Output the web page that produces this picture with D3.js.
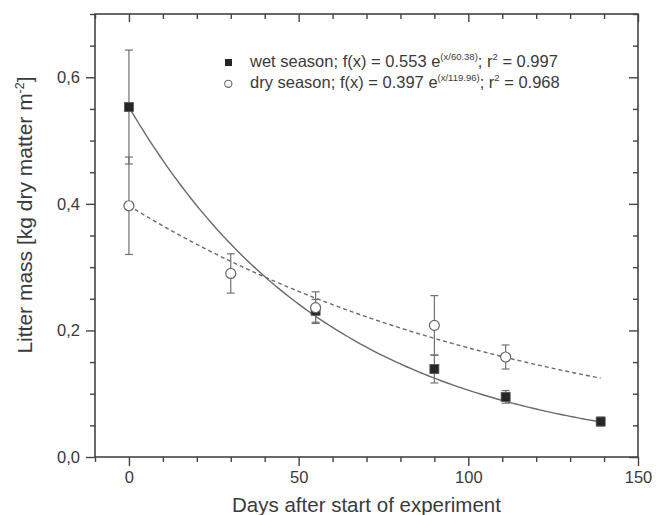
<!DOCTYPE html>
<html>
<head>
<meta charset="utf-8">
<script src="https://cdn.jsdelivr.net/npm/d3@7"></script>
<style>
  body { margin: 0; background: #fff; }
  svg { display: block; font-family: "Liberation Sans", Arial, sans-serif; }
</style>
</head>
<body>
<div id="chart"></div>
<script>
const wetDays = [0, 55, 90, 111, 139];
const wetMass = [0.553, 0.231, 0.139, 0.095, 0.056];
const wetErr  = [0.090, 0.018, 0.022, 0.010, 0.007];

const dryDays = [0, 30, 55, 90, 111];
const dryMass = [0.397, 0.290, 0.236, 0.208, 0.158];
const dryErr  = [0.077, 0.031, 0.025, 0.047, 0.019];

// fitted exponential decay parameters
const wetFit = { a: 0.553, k: 60.38 };
const dryFit = { a: 0.397, k: 119.96 };
const fitEnd = 139;

const xTicks = [0, 50, 100, 150];
const yTicks = [0, 0.2, 0.4, 0.6];

const width = 663, height = 515;
const margin = { top: 14, right: 25, bottom: 58, left: 95 };

const svg = d3.select("#chart").append("svg")
    .attr("width", width)
    .attr("height", height);

const x = d3.scaleLinear().domain([-10, 150]).range([margin.left, width - margin.right]);
const y = d3.scaleLinear().domain([0, 0.7]).range([height - margin.bottom, margin.top]);

const axisColor = "#444";
const textColor = "#3a3a3a";

// frame
svg.append("rect")
    .attr("x", x(-10)).attr("y", y(0.7))
    .attr("width", x(150) - x(-10)).attr("height", y(0) - y(0.7))
    .attr("fill", "none").attr("stroke", axisColor).attr("stroke-width", 1.6);

const xMinor = d3.range(-10, 151, 10);
const yMinor = d3.range(0, 0.701, 0.05);

// bottom axis (outward ticks)
const bottomAxis = svg.append("g").attr("transform", `translate(0,${y(0)})`);
bottomAxis.call(d3.axisBottom(x).tickValues(xMinor.filter(v => v % 50 !== 0)).tickSize(5).tickFormat(""));
bottomAxis.append("g").call(d3.axisBottom(x).tickValues(xTicks).tickSize(9).tickPadding(5).tickFormat(d3.format("d")));
bottomAxis.selectAll(".domain").remove();

// left axis (outward ticks)
const leftAxis = svg.append("g").attr("transform", `translate(${x(-10)},0)`);
leftAxis.call(d3.axisLeft(y).tickValues(yMinor.filter((v, i) => i % 4 !== 0)).tickSize(5).tickFormat(""));
leftAxis.append("g").call(d3.axisLeft(y).tickValues(yTicks).tickSize(9).tickPadding(6)
    .tickFormat(d => d3.format(".1f")(d).replace(".", ",")));
leftAxis.selectAll(".domain").remove();

// top axis (inward ticks)
const topAxis = svg.append("g").attr("transform", `translate(0,${y(0.7)})`);
topAxis.call(d3.axisBottom(x).tickValues(xMinor.filter(v => v % 50 !== 0)).tickSize(5).tickFormat(""));
topAxis.append("g").call(d3.axisBottom(x).tickValues(xTicks).tickSize(8).tickFormat(""));
topAxis.selectAll(".domain").remove();

// right axis (inward ticks)
const rightAxis = svg.append("g").attr("transform", `translate(${x(150)},0)`);
rightAxis.call(d3.axisLeft(y).tickValues(yMinor.filter((v, i) => i % 4 !== 0)).tickSize(5).tickFormat(""));
rightAxis.append("g").call(d3.axisLeft(y).tickValues(yTicks).tickSize(9).tickFormat(""));
rightAxis.selectAll(".domain").remove();

svg.selectAll(".tick line").attr("stroke", axisColor).attr("stroke-width", 1.4);
svg.selectAll(".tick text")
    .attr("fill", textColor)
    .style("font-size", "16.5px");

// axis titles
svg.append("text")
    .attr("x", (x(-10) + x(150)) / 2)
    .attr("y", 512)
    .attr("text-anchor", "middle")
    .attr("fill", textColor)
    .style("font-size", "20.5px")
    .text("Days after start of experiment");

const yTitle = svg.append("text")
    .attr("transform", `translate(32,215) rotate(-90)`)
    .attr("text-anchor", "middle")
    .attr("fill", textColor)
    .style("font-size", "21px");
yTitle.append("tspan").text("Litter mass [kg dry matter m");
yTitle.append("tspan").attr("dy", -8).style("font-size", "12.5px").text("-2");
yTitle.append("tspan").attr("dy", 8).text("]");

// fitted curves
const fitLine = fit => d3.line()
    .x(d => x(d))
    .y(d => y(fit.a * Math.exp(-d / fit.k)));
const fitX = d3.range(0, fitEnd + 0.5, 1);

svg.append("path")
    .datum(fitX)
    .attr("d", fitLine(wetFit))
    .attr("fill", "none").attr("stroke", "#6a6a6a").attr("stroke-width", 1.4);

svg.append("path")
    .datum(fitX)
    .attr("d", fitLine(dryFit))
    .attr("fill", "none").attr("stroke", "#6a6a6a").attr("stroke-width", 1.4)
    .attr("stroke-dasharray", "4,3");

// error bars
function errorBars(days, mass, err) {
    const g = svg.append("g").attr("stroke", "#707070").attr("stroke-width", 1.2);
    const pts = days.map((d, i) => ({ d, m: mass[i], e: err[i] }));
    g.selectAll(".bar").data(pts).join("line").attr("class", "bar")
        .attr("x1", p => x(p.d)).attr("x2", p => x(p.d))
        .attr("y1", p => y(p.m + p.e)).attr("y2", p => y(p.m - p.e));
    g.selectAll(".capTop").data(pts).join("line").attr("class", "capTop")
        .attr("x1", p => x(p.d) - 4).attr("x2", p => x(p.d) + 4)
        .attr("y1", p => y(p.m + p.e)).attr("y2", p => y(p.m + p.e));
    g.selectAll(".capBot").data(pts).join("line").attr("class", "capBot")
        .attr("x1", p => x(p.d) - 4).attr("x2", p => x(p.d) + 4)
        .attr("y1", p => y(p.m - p.e)).attr("y2", p => y(p.m - p.e));
}
errorBars(dryDays, dryMass, dryErr);
errorBars(wetDays, wetMass, wetErr);

// markers
svg.append("g").selectAll("rect").data(wetDays).join("rect")
    .attr("x", d => x(d) - 4.5).attr("y", (d, i) => y(wetMass[i]) - 4.5)
    .attr("width", 9).attr("height", 9)
    .attr("fill", "#262626").attr("stroke", "#555").attr("stroke-width", 0.8);

svg.append("g").selectAll("circle").data(dryDays).join("circle")
    .attr("cx", d => x(d)).attr("cy", (d, i) => y(dryMass[i]))
    .attr("r", 5)
    .attr("fill", "#fff").attr("stroke", "#666").attr("stroke-width", 1.2);

// legend
const legend = svg.append("g").style("font-size", "16.5px").attr("fill", textColor);
legend.append("rect").attr("x", 225).attr("y", 59).attr("width", 7).attr("height", 7).attr("fill", "#262626");
legend.append("circle").attr("cx", 228.3).attr("cy", 83.8).attr("r", 3.6)
    .attr("fill", "#fff").attr("stroke", "#666").attr("stroke-width", 1.1);

function legendText(yPos, label, a, k, r2) {
    const t = legend.append("text").attr("x", 250).attr("y", yPos);
    t.append("tspan").text(`${label}; f(x) = ${a} e`);
    t.append("tspan").attr("dy", -7).style("font-size", "9.5px").text(`(x/${k})`);
    t.append("tspan").attr("dy", 7).text("; r");
    t.append("tspan").attr("dy", -7).style("font-size", "9.5px").text("2");
    t.append("tspan").attr("dy", 7).text(` = ${r2}`);
}
legendText(67, "wet season", "0.553", "60.38", "0.997");
legendText(87.5, "dry season", "0.397", "119.96", "0.968");
</script>
</body>
</html>
